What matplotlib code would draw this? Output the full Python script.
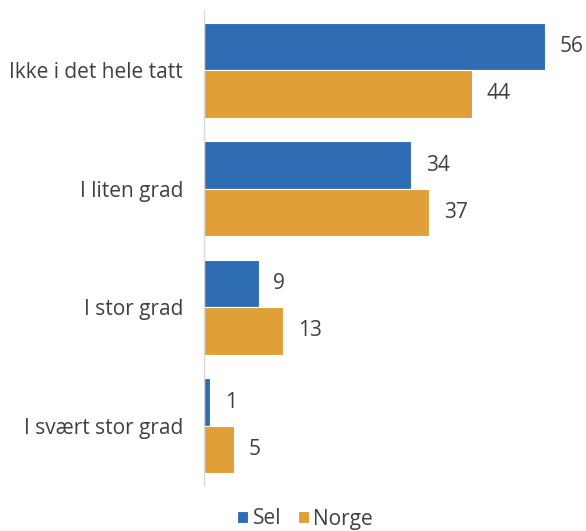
import numpy as np
import matplotlib
matplotlib.use("Agg")
import matplotlib.pyplot as plt

categories = ["Ikke i det hele tatt", "I liten grad", "I stor grad", "I svært stor grad"]
sel = [56, 34, 9, 1]
norge = [44, 37, 13, 5]

blue = "#2E6DB4"
orange = "#E09F37"
text_col = "#404040"

plt.rcParams["font.family"] = ["Open Sans", "DejaVu Sans"]

fig = plt.figure(figsize=(5.86, 5.31), dpi=100)
ax = fig.add_axes([204 / 586, 46 / 531, 1 - 204 / 586, 474 / 531])

y = np.arange(len(categories))
h = 0.4
b1 = ax.barh(y - h / 2, sel, height=h, color=blue, edgecolor="white", linewidth=0.8, label="Sel")
b2 = ax.barh(y + h / 2, norge, height=h, color=orange, edgecolor="white", linewidth=0.8, label="Norge")

for bars, vals in ((b1, sel), (b2, norge)):
    for bar, v in zip(bars, vals):
        ax.text(bar.get_width() + 2.4, bar.get_y() + bar.get_height() / 2, str(v),
                va="center", ha="left", fontsize=15, color=text_col)

ax.set_ylim(3.5, -0.5)
ax.set_xlim(0, 382 / 6.09)
ax.set_yticks(y)
ax.set_yticklabels(categories, fontsize=15, color=text_col)
ax.tick_params(axis="y", length=0, pad=15)
ax.set_xticks([])
for s in ["top", "right", "bottom"]:
    ax.spines[s].set_visible(False)
ax.spines["left"].set_color("#D9D9D9")
ax.spines["left"].set_linewidth(1)

fig.legend(handles=[b1, b2], loc="center", bbox_to_anchor=(305 / 586, 1 - 519 / 531),
           ncol=2, frameon=False, fontsize=15, handlelength=0.55, handleheight=0.55,
           handletextpad=0.2, columnspacing=0.8, labelcolor=text_col)

fig.savefig("out.png", dpi=100)
